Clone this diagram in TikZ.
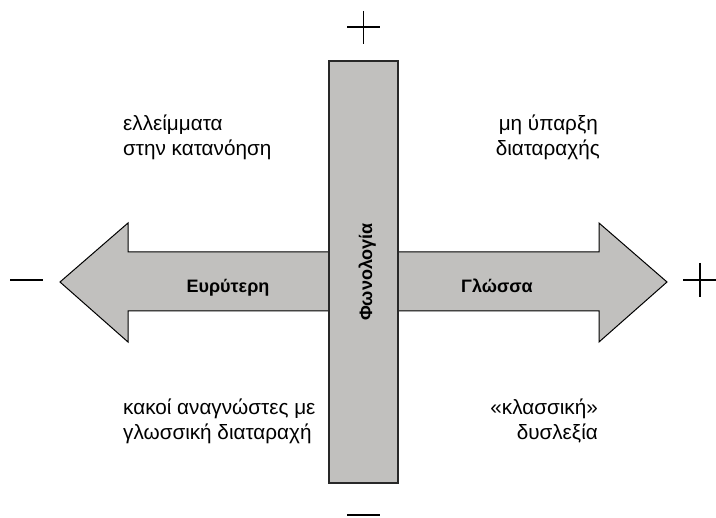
\documentclass[tikz,border=0pt]{standalone}
\usepackage{fontspec}
\setmainfont{Liberation Sans}
\definecolor{shapegray}{RGB}{193,192,190}
\definecolor{barline}{RGB}{40,40,40}
\begin{document}
\begin{tikzpicture}[x=1pt,y=-1pt,
  lbl/.style={inner sep=0pt,font=\fontsize{20.7}{25}\selectfont},
  blbl/.style={inner sep=0pt,font=\fontsize{18}{25}\selectfont\bfseries},
  sign/.style={line width=1.6pt,draw=black}]
\useasboundingbox (0,0) rectangle (716,518);
% double arrow
\draw[fill=shapegray,line width=1pt,draw=black,line join=miter]
  (60,282) -- (128,223) -- (128,252) -- (599,252) -- (599,223) -- (667,282)
  -- (599,342) -- (599,311) -- (128,311) -- (128,342) -- cycle;
% vertical bar
\node[draw=barline,fill=shapegray,line width=1.5pt,minimum width=69pt,minimum height=422pt,inner sep=0pt] (bar) at (363.5,272) {};
\node[blbl,rotate=90,anchor=base] (phon) at (372,272) {Φωνολογία};
\node[blbl,anchor=base] (left) at (228,293) {Ευρύτερη};
\node[blbl,anchor=base] (right) at (497,293) {Γλώσσα};
% signs
\coordinate (tpl) at (347,27); \coordinate (tpr) at (380,27);
\coordinate (tpt) at (363.5,11); \coordinate (tpb) at (363.5,44);
\draw[sign] (tpl) -- (tpr); \draw[sign] (tpt) -- (tpb);
\coordinate (lml) at (10,280); \coordinate (lmr) at (43,280);
\draw[sign] (lml) -- (lmr);
\coordinate (rpl) at (683,280); \coordinate (rpr) at (716,280);
\coordinate (rpt) at (700,263); \coordinate (rpb) at (700,297);
\draw[sign] (rpl) -- (rpr); \draw[sign] (rpt) -- (rpb);
\coordinate (bml) at (347,515.5); \coordinate (bmr) at (380,515.5);
\draw[sign,line width=2pt] (bml) -- (bmr);
% quadrant texts
\node[lbl,anchor=base west] (ul1) at (123,131) {ελλείμματα};
\node[lbl,anchor=base west] (ul2) at (123,156) {στην κατανόηση};
\node[lbl,anchor=base east] (ur1) at (598,131) {μη ύπαρξη};
\node[lbl,anchor=base east] (ur2) at (600,156) {διαταραχής};
\node[lbl,anchor=base west] (ll1) at (123,415) {κακοί αναγνώστες με};
\node[lbl,anchor=base west] (ll2) at (123,440) {γλωσσική διαταραχή};
\node[lbl,anchor=base east] (lr1) at (598,415) {«κλασσική»};
\node[lbl,anchor=base east] (lr2) at (598,440) {δυσλεξία};
\end{tikzpicture}
\end{document}
